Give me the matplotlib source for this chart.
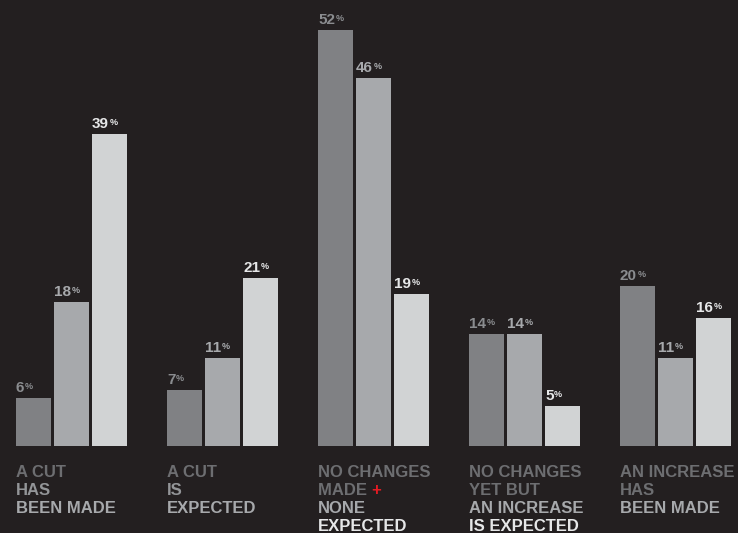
import numpy as np
import matplotlib
matplotlib.use("Agg")
import matplotlib.pyplot as plt

# data
categories = ["A CUT HAS BEEN MADE", "A CUT IS EXPECTED", "NO CHANGES MADE + NONE EXPECTED",
              "NO CHANGES YET BUT AN INCREASE IS EXPECTED", "AN INCREASE HAS BEEN MADE"]
series_a = [6, 7, 52, 14, 20]
series_b = [18, 11, 46, 14, 11]
series_c = [39, 21, 19, 5, 16]

# category label lines and their colours
label_lines = [
    ["A CUT", "HAS", "BEEN MADE"],
    ["A CUT", "IS", "EXPECTED"],
    ["NO CHANGES", "MADE ", "NONE", "EXPECTED"],
    ["NO CHANGES", "YET BUT", "AN INCREASE", "IS EXPECTED"],
    ["AN INCREASE", "HAS", "BEEN MADE"],
]
DARK, MID, LIGHT, WHITE = "#6d6e71", "#939598", "#a7a9ac", "#e6e7e8"
label_colors = [
    [DARK, MID, LIGHT],
    [DARK, MID, LIGHT],
    [DARK, DARK, LIGHT, WHITE],
    [DARK, DARK, LIGHT, WHITE],
    [DARK, DARK, LIGHT],
]

BG = "#231f20"
bar_colors = ["#808184", "#a7a9ac", "#d1d3d4"]
value_colors = ["#8a8c8f", "#a7a9ac", "#e6e7e8"]

plt.rcParams["font.family"] = ["Liberation Sans", "DejaVu Sans"]

fig = plt.figure(figsize=(7.38, 5.33), dpi=100, facecolor=BG)
ax = fig.add_axes([0, 0, 1, 1])
ax.set_facecolor(BG)
ax.axis("off")

spacing = 151.0
width = 35 / spacing
step = 38 / spacing
ax.set_xlim(-71.5 / spacing, (738 - 71.5) / spacing)
ax.set_ylim(-87 / 8, (533 - 87) / 8)

x = np.arange(len(categories))
for j, vals in enumerate([series_a, series_b, series_c]):
    xs = x + (j - 1) * step
    ax.bar(xs, vals, width=width, color=bar_colors[j], linewidth=0)
    for xi, v in zip(xs, vals):
        num = ax.annotate(str(v), xy=(xi - width / 2, v), xytext=(0, 6),
                          textcoords="offset pixels", ha="left", va="baseline",
                          fontsize=11, fontweight="bold", color=value_colors[j])
        ax.annotate("%", xy=(1, 1), xycoords=num, xytext=(0.5, -1),
                    textcoords="offset pixels", ha="left", va="top",
                    fontsize=6.5, fontweight="bold", color=value_colors[j])

# category labels under each group
for i, lines in enumerate(label_lines):
    left = x[i] - step - width / 2
    for k, line in enumerate(lines):
        t = ax.annotate(line, xy=(left, 0), xytext=(0, -31 - 18 * k),
                        textcoords="offset pixels", ha="left", va="baseline",
                        fontsize=12, fontweight="bold", color=label_colors[i][k])
        if line == "MADE ":
            ax.annotate("+", xy=(1, 0), xycoords=t, ha="left", va="bottom",
                        fontsize=12, fontweight="bold", color="#e31b23")

fig.savefig("out.png", dpi=100, facecolor=BG)
